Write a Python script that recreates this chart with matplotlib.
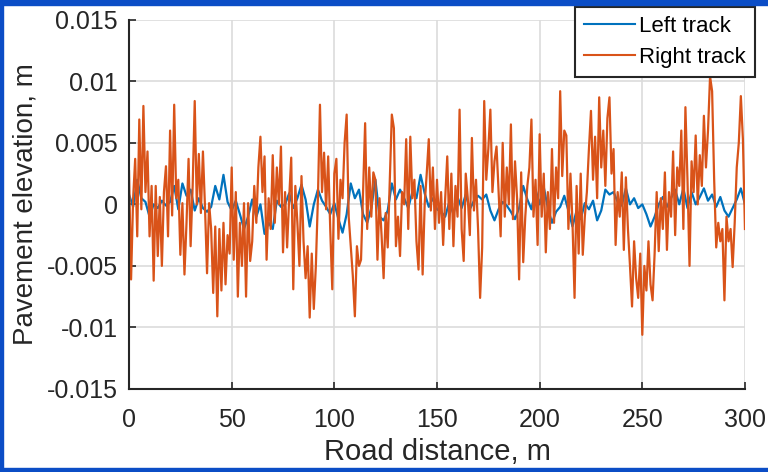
import numpy as np
import matplotlib
matplotlib.use("Agg")
import matplotlib.pyplot as plt
from matplotlib.patches import Rectangle

plt.rcParams['font.family'] = ['Liberation Sans', 'DejaVu Sans']
plt.rcParams['axes.unicode_minus'] = False

# road distance (m) and elevations (mm)
right_x = np.arange(0, 301, 1)
right_mm = [
    2.7, -6.1, 0.5, 3.7, -2.6, 6.9, -0.4, 8.0, 1.0, 4.3,
    -2.6, 1.5, -6.2, 1.5, -4.2, 0.6, -5.0, 1.0, 3.1, -2.6,
    6.0, -0.9, 8.1, 0.5, 2.0, -4.1, 0.1, -5.7, -1.5, 3.7,
    -3.4, 1.5, 8.4, 0.0, 4.1, -0.7, 4.3, -0.2, -5.6, 0.1,
    -2.0, -7.2, -1.8, -9.1, -2.0, -7.0, -1.5, -6.5, -2.5, -4.0,
    3.0, -4.5, 1.0, -7.5, -1.5, -5.0, 0.1, -7.5, 0.1, -4.6,
    -3.0, 1.5, -1.5, 3.0, 5.5, 1.0, 3.9, -4.5, 0.5, -2.0,
    4.0, -1.5, 3.0, 0.0, 4.7, -3.9, 1.0, -3.5, 0.5, 3.8,
    -6.9, 1.5, -1.5, -5.0, 2.3, -3.0, -6.0, -3.4, -9.2, -4.0,
    -8.5, -5.0, 0.5, 8.1, 1.0, 4.2, -0.4, 3.9, -2.0, -6.9,
    2.5, 3.7, -2.8, 2.0, 0.5, 5.0, 7.3, -1.0, -3.4, -5.8,
    -9.1, -3.4, -5.0, -4.5, 1.0, 6.6, -2.0, 3.0, -1.0, 2.6,
    2.0, -4.5, 0.5, -2.5, -6.0, -0.7, -3.5, 2.0, 7.3, 6.2,
    -3.4, -1.0, -4.2, 1.0, 0.0, 5.3, -2.0, 5.5, 0.5, 2.0,
    -3.0, -5.3, 1.5, -5.7, 0.0, 2.5, 5.3, -0.5, 3.0, -2.0,
    2.0, -1.5, 1.0, -3.3, 0.5, 3.9, -2.0, 2.5, -3.4, 1.5,
    -1.0, 7.7, -2.0, -4.6, 2.5, 0.5, -2.5, 5.4, -0.5, 2.0,
    -2.0, -7.6, -3.5, 8.4, 2.0, 4.5, 7.7, 1.0, 3.5, 4.7,
    1.0, -2.6, 5.0, -1.0, 3.0, 0.0, 6.5, -1.2, 3.5, 0.5,
    -6.1, 2.6, -4.7, -1.0, 1.5, 3.0, 6.9, -1.0, 2.0, -3.3,
    5.7, -1.0, 2.5, -3.9, 1.0, -2.0, 4.5, -1.5, 3.0, 0.5,
    9.2, 2.3, 6.0, 5.6, -2.0, 2.5, -1.5, -7.6, 1.5, -4.0,
    2.5, -4.1, -1.0, 1.0, 4.5, 7.6, 2.0, 5.5, 0.5, 8.7,
    3.0, 6.0, 1.5, 7.0, 8.7, 2.5, 4.5, -3.3, 1.0, -1.0,
    2.6, -3.7, 2.2, -2.0, -5.0, -8.3, -3.0, -6.0, -7.6, -4.0,
    -10.6, -5.0, -7.0, -3.0, -6.5, -7.8, -4.0, 1.0, -3.8, 0.5,
    -2.0, 2.6, -3.7, 1.0, -1.0, 4.3, -2.5, 3.0, 1.5, 6.0,
    -2.0, 7.9, 2.0, -5.0, 3.5, 1.0, 5.6, 0.0, 4.0, 1.5,
    7.2, 3.0, 6.0, 10.4, 9.2, 2.0, -3.5, -1.5, -3.0, -2.0,
    -7.8, -1.0, -3.0, -2.0, -5.1, -1.5, 3.0, 5.0, 8.8, 5.3,
    -2.0,
]

left_x = np.arange(0, 301, 2)
left_mm = [
    0.8, -0.2, 2.0, 0.5, 0.2, -1.0, 0.0, -0.3, 0.3, -0.1,
    0.2, 1.5, -0.4, 1.7, 0.7, 1.2, -0.5, 0.5, -0.3, -0.6,
    -0.2, 1.5, 0.4, 2.4, 0.2, -0.5, 0.3, -0.8, -2.0, -1.0,
    0.4, -1.0, 0.0, -2.4, -1.5, -2.0, 0.3, -0.2, 0.0, 0.9,
    -0.3, 0.5, 1.6, 0.4, -1.8, 0.0, 1.2, 0.3, -0.2, -0.8,
    0.1, -1.2, -2.3, -0.8, 1.7, 0.5, 1.2, -0.8, -1.5, -0.3,
    2.0, -1.0, -1.3, -0.5, 1.7, 0.4, 1.2, 0.5, -0.3, 1.0,
    0.5, 2.4, 0.9, -0.2, 0.5, -0.4, -0.6, -1.0, 0.2, -0.8,
    0.6, -0.3, 0.8, -0.4, 0.3, 0.7, 0.4, 0.8, -0.5, -1.3,
    -0.4, 0.2, -0.1, -0.6, -1.2, -0.3, 1.5, 0.4, -0.4, 1.2,
    0.0, 1.4, -0.3, -1.5, -0.6, -0.2, 0.7, -0.5, -1.8, -0.5,
    -1.2, 0.1, -0.4, 0.3, -1.3, -0.5, 1.2, 0.8, 1.0, 0.2,
    -0.1, 1.3, 0.0, 0.5, -0.3, 0.0, -0.8, -1.8, -1.0, 0.0,
    0.6, -0.2, 0.5, 1.2, 0.0, 1.3, -0.3, 1.0, 0.0, 0.6,
    1.3, 0.3, 0.8, -0.2, 0.6, -0.5, -1.0, -0.3, 0.4, 1.3,
    0.0,
]

yticks = [-0.015, -0.01, -0.005, 0, 0.005, 0.01, 0.015]
ytick_labels = ['-0.015', '-0.01', '-0.005', '0', '0.005', '0.01', '0.015']
xticks = [0, 50, 100, 150, 200, 250, 300]

fig = plt.figure(figsize=(7.68, 4.72), dpi=100)
ax = fig.add_axes([0.168, 0.176, 0.802, 0.782])

ax.plot(left_x, np.array(left_mm) / 1000, color='#0072BD', lw=1.6, label='Left track')
ax.plot(right_x, np.array(right_mm) / 1000, color='#D95319', lw=1.6, label='Right track')

ax.set_xlim(0, 300)
ax.set_ylim(-0.015, 0.015)
ax.set_xticks(xticks)
ax.set_yticks(yticks)
ax.set_yticklabels(ytick_labels)
ax.grid(True, color='#dcdcdc', lw=1.2)
ax.set_axisbelow(True)
for s in ['top', 'right']:
    ax.spines[s].set_visible(False)
for s in ['left', 'bottom']:
    ax.spines[s].set_color('#262626')
    ax.spines[s].set_linewidth(1.5)
ax.tick_params(axis='both', direction='in', length=5, width=1.2, colors='#262626',
               labelsize=18, labelcolor='#262626')
ax.tick_params(axis='x', pad=14)
ax.tick_params(axis='y', pad=8)

ax.set_xlabel('Road distance, m', fontsize=21, color='#262626', labelpad=4)
ax.set_ylabel('Pavement elevation, m', fontsize=20, color='#262626', labelpad=6)

leg = ax.legend(loc='upper left', bbox_to_anchor=(0.7487, 0.985), bbox_transform=fig.transFigure,
                fontsize=16, handlelength=2.3, handletextpad=0.2, borderpad=0.4,
                labelspacing=0.45, borderaxespad=0, fancybox=False, framealpha=1)
leg.get_frame().set_edgecolor('#262626')
leg.get_frame().set_linewidth(1.5)
for line in leg.get_lines():
    line.set_linewidth(1.5)

# blue frame around the screenshot
border = '#0b4dc6'
fig.patches.append(Rectangle((0, 0), 3 / 768, 1, transform=fig.transFigure, color=border, zorder=10))
fig.patches.append(Rectangle((0, 1 - 5 / 472), 1, 5 / 472, transform=fig.transFigure, color=border, zorder=10))
fig.patches.append(Rectangle((0, 0), 1, 4 / 472, transform=fig.transFigure, color=border, zorder=10))

fig.savefig('out.png', dpi=100)
